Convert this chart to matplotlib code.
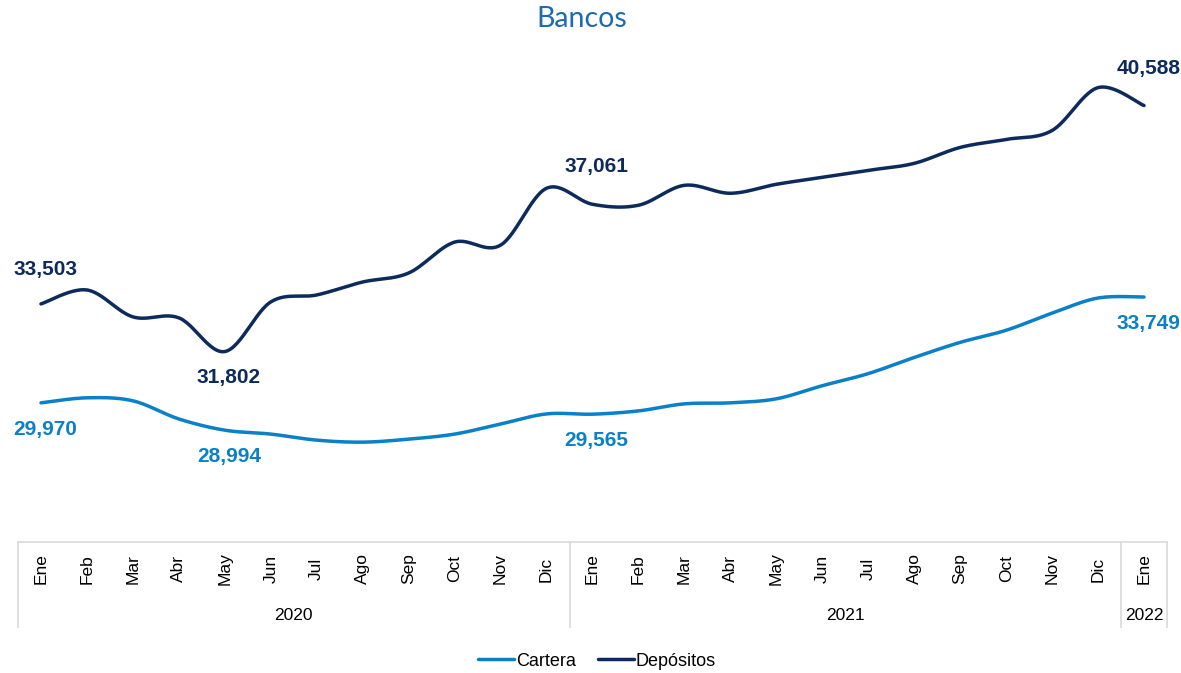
import numpy as np
import matplotlib
matplotlib.use("Agg")
import matplotlib.pyplot as plt
from matplotlib.lines import Line2D
from matplotlib.transforms import blended_transform_factory

# ---------------- data ----------------
months = ["Ene", "Feb", "Mar", "Abr", "May", "Jun", "Jul", "Ago", "Sep", "Oct", "Nov", "Dic",
          "Ene", "Feb", "Mar", "Abr", "May", "Jun", "Jul", "Ago", "Sep", "Oct", "Nov", "Dic",
          "Ene"]
years = ["2020", "2021", "2022"]
year_spans = [(0, 11), (12, 23), (24, 24)]

cartera = [29970, 30150, 30042, 29394, 28994, 28854, 28638, 28566, 28674, 28854, 29214, 29574,
           29565, 29682, 29934, 29970, 30114, 30582, 31014, 31590, 32130, 32562, 33174, 33714,
           33749]
depositos = [33503, 34001, 33040, 33005, 31802, 33574, 33823, 34286, 34607, 35710, 35603, 37633,
             37061, 37027, 37739, 37455, 37775, 38024, 38273, 38523, 39092, 39377, 39697, 41228,
             40588]

# indices of labelled points, and placement (above / below)
cartera_labels = [(0, "below"), (4, "below"), (12, "below"), (24, "below")]
depositos_labels = [(0, "above"), (4, "below"), (12, "above"), (24, "above")]

C_CART = "#0A80C8"
C_DEP = "#0C2B5C"
C_TITLE = "#1B6AB4"
GRID = "#D9D9D9"


def smooth(xs, ys, n=30):
    """Excel-like smoothed line (cubic Bezier with Catmull-Rom control points)."""
    P = np.column_stack([xs, ys]).astype(float)
    out = [P[0]]
    t = np.linspace(0, 1, n)[1:]
    for i in range(len(P) - 1):
        p0 = P[i - 1] if i > 0 else P[i]
        p1 = P[i]
        p2 = P[i + 1]
        p3 = P[i + 2] if i + 2 < len(P) else P[i + 1]
        c1 = p1 + (p2 - p0) / 6.0
        c2 = p2 - (p3 - p1) / 6.0
        seg = ((1 - t) ** 3)[:, None] * p1 + (3 * (1 - t) ** 2 * t)[:, None] * c1 + \
              (3 * (1 - t) * t ** 2)[:, None] * c2 + (t ** 3)[:, None] * p2
        out.extend(seg)
    out = np.array(out)
    return out[:, 0], out[:, 1]


plt.rcParams["font.family"] = ["Liberation Sans", "DejaVu Sans"]

fig = plt.figure(figsize=(11.81, 6.73), dpi=100)
W, H = 1181, 673
ax = fig.add_axes([18 / W, 1 - 542 / H, (1167 - 18) / W, (542 - 38) / H])

x = np.arange(len(months))
xs, ys = smooth(x, cartera)
l1, = ax.plot(xs, ys, color=C_CART, lw=2.5, solid_capstyle="round", label="Cartera")
xs, ys = smooth(x, depositos)
l2, = ax.plot(xs, ys, color=C_DEP, lw=2.5, solid_capstyle="round", label="Depósitos")

ax.set_xlim(-0.5, len(months) - 0.5)
ax.set_ylim(25000, 43000)
ax.set_yticks([])
ax.set_xticks([])
for s in ["left", "right", "top"]:
    ax.spines[s].set_visible(False)
ax.spines["bottom"].set_color(GRID)
ax.spines["bottom"].set_linewidth(1.2)

# data labels
for series, labels, col in [(cartera, cartera_labels, C_CART), (depositos, depositos_labels, C_DEP)]:
    for i, pos in labels:
        dy = 25 if pos == "above" else -19
        if i in (12, 24) and pos == "above":
            dy = 27
        ax.annotate(f"{series[i]:,}", (x[i], series[i]), xytext=(3, dy), textcoords="offset points",
                    ha="center", va="center", fontsize=15, fontweight="bold", color=col)

# category table below axis
tr = blended_transform_factory(ax.transData, ax.transAxes)
ax_h_px = 542 - 38
def ya(px_below):
    return -px_below / ax_h_px

for b in [-0.5, 11.5, 23.5, 24.5]:
    ax.add_line(Line2D([b, b], [0, ya(85)], transform=tr, color=GRID, lw=1.2, clip_on=False))

for i, m in enumerate(months):
    ax.text(x[i], ya(27), m, transform=tr, rotation=90, ha="center", va="center",
            fontsize=12.5, color="#000000")
for (a, b), yr in zip(year_spans, years):
    ax.text((a + b) / 2, ya(73), yr, transform=tr, ha="center", va="center",
            fontsize=12.5, color="#000000")

# title
fig.text(582 / W, 1 - 19 / H, "Bancos", ha="center", va="center", fontsize=20.5,
         color=C_TITLE, family=["Lato", "DejaVu Sans"])

# legend
fig.legend(handles=[l1, l2], loc="center", bbox_to_anchor=(597 / W, 1 - 661 / H),
           ncol=2, frameon=False, fontsize=13, handlelength=2.0, handletextpad=0.1,
           columnspacing=1.2)

fig.savefig("out.png", dpi=100)
